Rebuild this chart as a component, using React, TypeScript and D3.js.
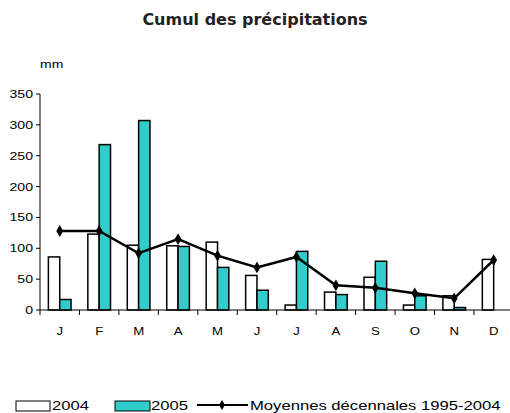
import React, { useEffect, useRef } from 'react';
import * as d3 from 'd3';

const months = ['J', 'F', 'M', 'A', 'M', 'J', 'J', 'A', 'S', 'O', 'N', 'D'];
const rain2004 = [86, 123, 105, 104, 110, 56, 8, 29, 53, 8, 23, 82];
const rain2005 = [17, 268, 307, 103, 69, 32, 95, 25, 79, 23, 4, 0];
const decadal = [128, 128, 92, 115, 88, 69, 86, 40, 36, 27, 19, 81];
const yTicks = [0, 50, 100, 150, 200, 250, 300, 350];
const seriesNames = ['2004', '2005'];

const teal = '#33cccc';
const font = 'Liberation Sans, Arial, sans-serif';
const stretch = 1.28; // the source texts look horizontally stretched

export default function App() {
  const ref = useRef<SVGSVGElement>(null);

  useEffect(() => {
    const svg = d3.select(ref.current);
    svg.selectAll('*').remove();

    const W = 510;
    const margin = { left: 40, top: 94, bottom: 310 };
    const idx = months.map((_, i) => String(i));

    const x = d3.scaleBand().domain(idx).range([margin.left, margin.left + 12 * 39.45]);
    const x1 = d3.scaleBand().domain(seriesNames).range([0, x.bandwidth()]).paddingOuter(0.74);
    const y = d3.scaleLinear().domain([0, 350]).range([margin.bottom, margin.top]);

    // wide text helper
    const label = (parent: any, tx: number, ty: number, txt: string, size: number, anchor = 'start', sx = stretch) =>
      parent.append('text')
        .attr('transform', `translate(${tx},${ty}) scale(${sx},1)`)
        .attr('text-anchor', anchor)
        .attr('font-family', font)
        .attr('font-size', size)
        .attr('fill', '#000')
        .text(txt);

    // title
    svg.append('text')
      .attr('x', 255).attr('y', 25)
      .attr('text-anchor', 'middle')
      .attr('font-family', 'DejaVu Sans, sans-serif')
      .attr('font-weight', 'bold')
      .attr('font-size', 16)
      .attr('fill', '#222')
      .text('Cumul des précipitations');

    label(svg, 40, 68, 'mm', 10, 'start', 1.4);

    // y axis
    svg.append('line')
      .attr('x1', margin.left).attr('x2', margin.left)
      .attr('y1', y(0)).attr('y2', y(350))
      .attr('stroke', '#000');
    yTicks.forEach(t => {
      svg.append('line')
        .attr('x1', margin.left - 4).attr('x2', margin.left)
        .attr('y1', y(t)).attr('y2', y(t))
        .attr('stroke', '#000');
      label(svg, 33, y(t) + 4, String(t), 11, 'end');
    });

    // bars
    const g = svg.append('g');
    idx.forEach((k, i) => {
      const vals = [rain2004[i], rain2005[i]];
      seriesNames.forEach((s, j) => {
        if (vals[j] <= 0) return;
        g.append('rect')
          .attr('x', (x(k) as number) + (x1(s) as number))
          .attr('y', y(vals[j]))
          .attr('width', x1.bandwidth())
          .attr('height', y(0) - y(vals[j]))
          .attr('fill', j === 0 ? '#fff' : teal)
          .attr('stroke', '#000')
          .attr('stroke-width', 1.5);
      });
    });

    // x axis
    const xAxis = svg.append('g')
      .attr('transform', `translate(0,${margin.bottom})`);
    xAxis.append('line')
      .attr('x1', margin.left).attr('x2', W)
      .attr('stroke', '#000');
    idx.forEach((k, i) => {
      xAxis.append('line')
        .attr('x1', x(k) as number).attr('x2', x(k) as number)
        .attr('y1', 0).attr('y2', 5)
        .attr('stroke', '#000');
      label(xAxis, (x(k) as number) + x.bandwidth() / 2, 25, months[i], 11, 'middle', 1.2);
    });

    // decadal line
    const line = d3.line<number>()
      .x((_, i) => (x(idx[i]) as number) + x.bandwidth() / 2)
      .y(d => y(d));
    svg.append('path')
      .datum(decadal)
      .attr('fill', 'none')
      .attr('stroke', '#000')
      .attr('stroke-width', 2.5)
      .attr('d', line);
    const diamond = d3.symbol().type(d3.symbolDiamond).size(40);
    svg.selectAll('.pt')
      .data(decadal)
      .join('path')
      .attr('transform', (d, i) => `translate(${(x(idx[i]) as number) + x.bandwidth() / 2},${y(d)})`)
      .attr('d', diamond)
      .attr('fill', '#000');

    // legend
    const lg = svg.append('g');
    lg.append('rect').attr('x', 16).attr('y', 401).attr('width', 34).attr('height', 10)
      .attr('fill', '#fff').attr('stroke', '#000').attr('stroke-width', 1);
    label(lg, 52, 410, '2004', 13);
    lg.append('rect').attr('x', 115).attr('y', 401).attr('width', 35).attr('height', 10)
      .attr('fill', teal).attr('stroke', '#000').attr('stroke-width', 1);
    label(lg, 151, 410, '2005', 13);
    lg.append('line').attr('x1', 197).attr('x2', 248).attr('y1', 405).attr('y2', 405)
      .attr('stroke', '#000').attr('stroke-width', 2);
    lg.append('path').attr('transform', 'translate(222,405)')
      .attr('d', d3.symbol().type(d3.symbolDiamond).size(30)).attr('fill', '#000');
    label(lg, 250, 410, 'Moyennes décennales 1995-2004', 13);
  }, []);

  return (
    <div style={{ position: 'absolute', left: 0, top: 0 }}>
      <svg ref={ref} width={510} height={413} style={{ display: 'block', background: '#fff' }} />
    </div>
  );
}
